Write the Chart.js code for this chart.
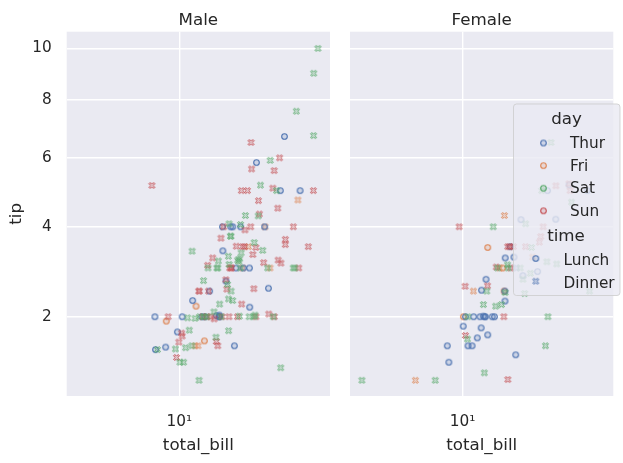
<!DOCTYPE html>
<html>
<head>
<meta charset="utf-8">
<script src="https://cdn.jsdelivr.net/npm/chart.js@4.4.1/dist/chart.umd.min.js"></script>
<style>
  html, body { margin: 0; padding: 0; background: #fff; }
  #wrap { position: relative; width: 623px; height: 463px; }
  canvas { position: absolute; top: 0; }
</style>
</head>
<body>
<div id="wrap">
  <canvas id="male" width="340" height="463" style="left:0"></canvas>
  <canvas id="female" width="283" height="463" style="left:340px"></canvas>
</div>
<script>
// [total_bill, tip] pairs, split by sex / day / time
const maleThurLunch = [[27.20,4.00],[22.76,3.00],[17.29,2.71],[19.44,3.00],[16.66,3.40],[32.68,5.00],[15.98,2.03],
  [13.03,2.00],[18.28,4.00],[24.71,5.85],[21.16,3.00],[11.69,2.31],[14.26,2.50],[15.95,2.00],[8.52,1.48],[22.82,2.18],
  [19.08,1.50],[16.00,2.00],[34.30,6.70],[41.19,5.00],[9.78,1.73],[7.51,2.00],[28.44,2.56],[15.48,2.02],[16.58,4.00],
  [7.56,1.44],[10.34,2.00],[13.51,2.00],[18.71,4.00],[20.53,4.00]];
const maleFriLunch = [[12.16,2.20],[8.58,1.92],[13.42,1.58]];
const maleFriDinner = [[28.97,3.00],[22.49,3.50],[40.17,4.73],[27.28,4.00],[12.03,1.50],[21.01,3.00],[12.46,1.50]];
const maleSatDinner = [[20.65,3.35],[17.92,4.08],[39.42,7.58],[19.82,3.18],[17.81,2.34],[13.37,2.00],[12.69,2.00],
  [21.70,4.30],[9.55,1.45],[18.35,2.50],[17.78,3.27],[24.06,3.60],[16.31,2.00],[18.69,2.31],[31.27,5.00],[16.04,2.24],
  [38.01,3.00],[11.24,1.76],[48.27,6.73],[20.29,3.21],[13.81,2.00],[11.02,1.98],[18.29,3.76],[17.59,2.64],[20.08,3.15],
  [20.23,2.01],[15.01,2.09],[12.02,1.97],[10.51,1.25],[17.92,3.08],[15.36,1.64],[20.49,4.06],[25.21,4.29],[18.24,3.76],
  [14.00,3.00],[50.81,10.00],[15.81,3.16],[26.59,3.41],[38.73,3.00],[24.27,2.03],[30.06,2.00],[25.89,5.16],[48.33,9.00],
  [28.15,3.00],[11.59,1.50],[7.74,1.44],[20.45,3.00],[13.28,2.72],[24.01,2.00],[15.69,3.00],[11.61,3.39],[10.77,1.47],
  [15.53,3.00],[10.07,1.25],[12.60,1.00],[32.83,1.17],[29.03,5.92],[22.67,2.00],[17.82,1.75]];
const maleSunDinner = [[10.34,1.66],[21.01,3.50],[23.68,3.31],[25.29,4.71],[8.77,2.00],[26.88,3.12],[15.04,1.96],
  [14.78,3.23],[10.27,1.71],[15.42,1.57],[18.43,3.00],[21.58,3.92],[16.29,3.71],[17.46,2.54],[13.94,3.06],[9.68,1.32],
  [30.40,5.60],[18.29,3.00],[22.23,5.00],[32.40,6.00],[28.55,2.05],[18.04,3.00],[12.54,2.50],[9.94,1.56],[25.56,4.34],
  [19.49,3.51],[38.07,4.00],[23.95,2.55],[29.93,5.07],[14.07,2.50],[13.13,2.00],[17.26,2.74],[24.55,2.00],[19.77,2.00],
  [48.17,5.00],[16.49,2.00],[21.50,3.50],[12.66,2.50],[13.81,2.00],[24.52,3.48],[20.76,2.24],[31.71,4.50],[7.25,5.15],
  [31.85,3.18],[16.82,4.00],[32.90,3.11],[17.89,2.00],[14.48,2.00],[34.63,3.55],[34.65,3.68],[23.33,5.65],[45.35,3.50],
  [23.17,6.50],[40.55,3.00],[20.69,5.00],[30.46,2.00],[23.10,4.00],[15.69,1.50]];

const femaleThurLunch = [[10.07,1.83],[34.83,5.17],[10.65,1.50],[12.43,1.80],[24.08,2.92],[13.42,1.68],[12.48,2.52],
  [29.80,4.20],[14.52,2.00],[11.38,2.00],[20.27,2.83],[11.17,1.50],[12.26,2.00],[18.26,3.25],[8.51,1.25],[10.33,2.00],
  [14.15,2.00],[13.16,2.75],[17.47,3.50],[27.05,5.00],[16.43,2.30],[8.35,1.50],[18.64,1.36],[11.87,1.63],[19.81,4.19],
  [43.11,5.00],[13.00,2.00],[12.74,2.01],[13.00,2.00],[16.40,2.50],[16.47,3.23]];
const femaleThurDinner = [[18.78,3.00]];
const femaleFriLunch = [[13.42,3.48],[15.98,3.00],[16.27,2.50],[10.09,2.00]];
const femaleFriDinner = [[5.75,1.00],[16.32,4.30],[22.75,3.25],[11.35,2.50],[15.38,3.00]];
const femaleSatDinner = [[20.29,2.75],[15.77,2.23],[19.65,3.00],[15.06,3.00],[20.69,2.45],[16.93,3.07],[26.41,1.50],
  [16.45,2.47],[3.07,1.00],[17.07,3.00],[26.86,3.14],[25.28,5.00],[14.73,2.20],[44.30,2.50],[22.42,3.48],[20.92,4.08],
  [14.31,4.00],[7.25,1.00],[10.59,1.61],[10.63,2.00],[12.76,2.23],[13.27,2.50],[28.17,6.50],[12.90,1.10],[30.14,3.09],
  [22.12,2.88],[35.83,4.67],[27.18,2.00]];
const femaleSunDinner = [[16.99,1.01],[24.59,3.61],[35.26,5.00],[14.83,3.02],[10.33,1.67],[16.97,3.50],[10.29,2.60],
  [34.81,5.20],[25.71,4.00],[17.31,3.50],[29.85,5.14],[25.00,3.75],[13.39,2.61],[16.21,2.00],[17.51,3.00],[9.60,4.00],
  [20.90,3.50],[18.15,3.50]];

const days = ['Thur', 'Fri', 'Sat', 'Sun'];
const times = ['Lunch', 'Dinner'];
const xTicks = [10];
const xTickLabels = ['10\u00b9'];
const yTicks = [2, 4, 6, 8, 10];

const dayColors = { Thur: '#4C72B0', Fri: '#DD8452', Sat: '#55A868', Sun: '#C44E52' };
const textColor = '#262626';
const FONT = '"DejaVu Sans", sans-serif';

function rgba(hex, a) {
  const n = parseInt(hex.slice(1), 16);
  return `rgba(${n >> 16},${(n >> 8) & 255},${n & 255},${a})`;
}

// marker images: hollow-ish circle for Lunch, filled X for Dinner
function circleMarker(color) {
  const c = document.createElement('canvas');
  c.width = 9; c.height = 9;
  const g = c.getContext('2d');
  g.beginPath();
  g.arc(4.5, 4.5, 2.8, 0, Math.PI * 2);
  g.fillStyle = rgba(color, 0.18);
  g.fill();
  g.lineWidth = 1.1;
  g.strokeStyle = color;
  g.stroke();
  return c;
}
function xMarker(color) {
  const c = document.createElement('canvas');
  c.width = 9; c.height = 9;
  const g = c.getContext('2d');
  const L = 3.3, w = 0.9;
  const pts = [[w,w],[w,L],[-w,L],[-w,w],[-L,w],[-L,-w],[-w,-w],[-w,-L],[w,-L],[w,-w],[L,-w],[L,w]];
  const k = Math.SQRT1_2;
  g.beginPath();
  pts.forEach(([x, y], i) => {
    const px = 4.5 + (x - y) * k, py = 4.5 + (x + y) * k;
    if (i === 0) g.moveTo(px, py); else g.lineTo(px, py);
  });
  g.closePath();
  g.fillStyle = rgba(color, 0.15);
  g.fill();
  g.lineWidth = 1;
  g.strokeStyle = color;
  g.stroke();
  return c;
}
const markers = {};
days.forEach(d => {
  markers[d] = { Lunch: circleMarker(dayColors[d]), Dinner: xMarker(dayColors[d]) };
});

// sqrt scale for the tip axis
const Linear = Chart.LinearScale || Chart.registry.getScale('linear');
class SqrtScale extends Linear {
  getPixelForValue(v) {
    const a = Math.sqrt(this.min), b = Math.sqrt(this.max);
    return this.getPixelForDecimal((Math.sqrt(v) - a) / (b - a));
  }
  getValueForPixel(p) {
    const a = Math.sqrt(this.min), b = Math.sqrt(this.max);
    const s = a + this.getDecimalForPixel(p) * (b - a);
    return s * s;
  }
}
SqrtScale.id = 'sqrt';
SqrtScale.defaults = {};
Chart.register(SqrtScale);

const panelBg = {
  id: 'panelBg',
  beforeDraw(chart) {
    const { ctx, chartArea: a } = chart;
    ctx.save();
    ctx.fillStyle = '#EAEAF2';
    ctx.fillRect(a.left, a.top, a.right - a.left, a.bottom - a.top);
    ctx.restore();
  }
};

const panelText = {
  id: 'panelText',
  afterDraw(chart, args, opts) {
    const { ctx, chartArea: a } = chart;
    const cx = (a.left + a.right) / 2;
    ctx.save();
    ctx.fillStyle = textColor;
    ctx.textAlign = 'center';
    ctx.textBaseline = 'alphabetic';
    ctx.font = '16.7px ' + FONT;
    ctx.fillText(opts.title, cx, 25);
    ctx.fillText('total_bill', cx, 449.5);
    if (opts.yLabel) {
      ctx.translate(21, (a.top + a.bottom) / 2);
      ctx.rotate(-Math.PI / 2);
      ctx.fillText('tip', 0, 0);
    }
    ctx.restore();
  }
};

// legend lives over the Female panel, coords in figure pixels
const legendBox = {
  id: 'legendBox',
  afterDatasetsDraw(chart) {
    const ctx = chart.ctx;
    ctx.save();
    ctx.translate(-340, 0);
    const x0 = 513.5, y0 = 104, w = 106.5, h = 191.5, r = 3;
    ctx.beginPath();
    ctx.roundRect(x0, y0, w, h, r);
    ctx.fillStyle = 'rgba(234,234,242,0.8)';
    ctx.fill();
    ctx.lineWidth = 1;
    ctx.strokeStyle = 'rgba(204,204,204,0.8)';
    ctx.stroke();

    ctx.fillStyle = textColor;
    ctx.textBaseline = 'alphabetic';
    ctx.textAlign = 'center';
    ctx.font = '16.7px ' + FONT;
    ctx.fillText('day', 566.5, 124);
    ctx.fillText('time', 566, 240.5);

    ctx.textAlign = 'left';
    ctx.font = '15.3px ' + FONT;
    days.forEach((d, i) => {
      const y = 148 + i * 22.6;
      const m = markers[d].Lunch;
      ctx.drawImage(m, 543.5 - m.width / 2, y - 5 - m.height / 2);
      ctx.fillText(d, 570, y);
    });
    times.forEach((t, i) => {
      const y = 265 + i * 22.7;
      const m = markers.Thur[t];
      ctx.drawImage(m, 535.8 - m.width / 2, y - 6.5 - m.height / 2);
      ctx.fillText(t, 563.5, y);
    });
    ctx.restore();
  }
};

function toDataset(points, day, time) {
  return {
    label: day + ' ' + time,
    data: points.map(([x, y]) => ({ x, y })),
    pointStyle: markers[day][time],
    pointRadius: 4,
    pointHoverRadius: 4
  };
}

function makeChart(id, datasets, title, showY, padRight, yWidth, extraPlugins) {
  return new Chart(document.getElementById(id), {
    type: 'scatter',
    data: { datasets },
    options: {
      responsive: false,
      animation: false,
      devicePixelRatio: 1,
      events: [],
      layout: { padding: { top: 31.7, right: padRight, left: 0, bottom: 0 } },
      plugins: {
        legend: { display: false },
        tooltip: { enabled: false },
        panelText: { title, yLabel: showY }
      },
      scales: {
        x: {
          type: 'logarithmic',
          min: 2.67,
          max: 58.5,
          bounds: 'data',
          afterFit: s => { s.height = 67; },
          afterBuildTicks: s => { s.ticks = xTicks.map(v => ({ value: v })); },
          ticks: {
            callback: v => xTickLabels[xTicks.indexOf(v)],
            font: { family: FONT, size: 15.3 },
            color: textColor,
            padding: 17,
            maxRotation: 0,
            autoSkip: false
          },
          grid: { color: '#ffffff', lineWidth: 1.4, drawTicks: false },
          border: { display: false }
        },
        y: {
          type: 'sqrt',
          min: 0.806,
          max: 10.7,
          bounds: 'data',
          afterFit: s => { s.width = yWidth; },
          afterBuildTicks: s => { s.ticks = yTicks.map(v => ({ value: v })); },
          ticks: {
            display: showY,
            callback: v => String(v),
            font: { family: FONT, size: 15.3 },
            color: textColor,
            padding: 15,
            autoSkip: false
          },
          grid: { color: '#ffffff', lineWidth: 1.4, drawTicks: false },
          border: { display: false }
        }
      }
    },
    plugins: [panelBg, panelText].concat(extraPlugins)
  });
}

makeChart('male', [
  toDataset(maleSatDinner, 'Sat', 'Dinner'),
  toDataset(maleSunDinner, 'Sun', 'Dinner'),
  toDataset(maleThurLunch, 'Thur', 'Lunch'),
  toDataset(maleFriLunch, 'Fri', 'Lunch'),
  toDataset(maleFriDinner, 'Fri', 'Dinner')
], 'Male', true, 10, 66.7, []);

makeChart('female', [
  toDataset(femaleSatDinner, 'Sat', 'Dinner'),
  toDataset(femaleSunDinner, 'Sun', 'Dinner'),
  toDataset(femaleThurLunch, 'Thur', 'Lunch'),
  toDataset(femaleThurDinner, 'Thur', 'Dinner'),
  toDataset(femaleFriLunch, 'Fri', 'Lunch'),
  toDataset(femaleFriDinner, 'Fri', 'Dinner')
], 'Female', false, 9.7, 10, [legendBox]);
</script>
</body>
</html>
